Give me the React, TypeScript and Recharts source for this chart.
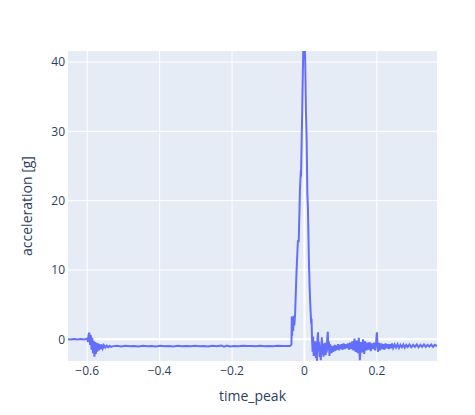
import { LineChart, Line, XAxis, YAxis, CartesianGrid, ReferenceLine, Label } from 'recharts'

// [time_peak, acceleration] pairs
const preEvent: [number, number][] = [
  [-0.653, 0.02], [-0.645, -0.03], [-0.636, 0.04], [-0.627, -0.02], [-0.618, 0.03], [-0.609, -0.04], [-0.603, 0.05],
]

const firstShock: [number, number][] = [
  [-0.6, 0.1], [-0.598, -0.4], [-0.596, 0.7], [-0.594, 0.95], [-0.592, -0.8], [-0.59, 0.6], [-0.588, -1.5],
  [-0.586, 0.2], [-0.584, -2.0], [-0.582, -0.2], [-0.58, -2.5], [-0.578, -0.4], [-0.576, -2.1], [-0.574, -0.5],
  [-0.572, -1.8], [-0.57, -0.6], [-0.568, -1.6], [-0.566, -0.7], [-0.563, -1.45], [-0.56, -0.75], [-0.557, -1.3],
  [-0.554, -0.85], [-0.55, -1.2], [-0.546, -0.9], [-0.542, -1.15], [-0.538, -0.95], [-0.534, -1.1],
]

const plateau: [number, number][] = [
  [-0.53, -1.02], [-0.518, -0.94], [-0.506, -1.05], [-0.494, -0.92], [-0.482, -1.0], [-0.47, -0.96], [-0.458, -1.04],
  [-0.446, -0.93], [-0.434, -1.0], [-0.422, -0.95], [-0.41, -1.03], [-0.398, -0.94], [-0.386, -0.99], [-0.374, -0.96],
  [-0.362, -1.02], [-0.35, -0.93], [-0.338, -1.0], [-0.326, -0.95], [-0.314, -1.01], [-0.302, -0.94], [-0.29, -0.99],
  [-0.278, -0.95], [-0.266, -1.02], [-0.254, -0.92], [-0.242, -1.0], [-0.23, -0.9], [-0.222, -1.06], [-0.214, -0.91],
  [-0.206, -1.03], [-0.194, -0.95], [-0.182, -1.0], [-0.17, -0.94], [-0.158, -0.98], [-0.146, -0.95], [-0.134, -1.0],
  [-0.122, -0.94], [-0.11, -0.99], [-0.098, -0.95], [-0.086, -1.0], [-0.074, -0.94], [-0.062, -0.98], [-0.05, -0.95],
  [-0.041, -0.97],
]

const impact: [number, number][] = [
  [-0.038, -0.9], [-0.036, -0.7], [-0.035, 3.3], [-0.034, 0.5], [-0.033, 2.8], [-0.031, 1.2], [-0.03, 3.4],
  [-0.028, 2.0], [-0.026, 3.5], [-0.024, 6.5], [-0.022, 9.6], [-0.02, 12.0], [-0.018, 14.3], [-0.016, 14.0],
  [-0.0135, 19.1], [-0.0125, 21.6], [-0.01, 24.4], [-0.0095, 23.5], [-0.006, 33.6], [-0.004, 40], [-0.002, 44],
  [0.0, 45], [0.002, 40], [0.004, 33], [0.006, 28.8], [0.008, 21], [0.0095, 19.1], [0.011, 15], [0.012, 11.9],
  [0.014, 8], [0.0155, 5.7], [0.017, 4], [0.0185, 2.3], [0.0195, 3.0],
]

const ringDown: [number, number][] = [
  [0.021, -0.1], [0.0225, -1.8], [0.024, 0.4], [0.0255, -2.4], [0.027, -0.6], [0.0285, -2.0], [0.03, -0.3],
  [0.0315, -2.7], [0.033, -1.0], [0.0345, -3.1], [0.036, 0.2], [0.0375, 1.0], [0.039, -1.8], [0.0405, -0.4],
  [0.042, -2.6], [0.0435, -0.9], [0.045, -3.0], [0.0465, -1.2], [0.048, 0.3], [0.0495, -2.2], [0.051, -0.6],
  [0.0525, -2.5], [0.054, -0.8], [0.0555, -2.0], [0.057, -0.5], [0.0585, -2.3], [0.06, -0.9], [0.0615, -1.9],
  [0.063, 0.2], [0.0645, 1.1], [0.066, -1.5], [0.0675, -0.3], [0.069, -2.4], [0.0705, -0.7], [0.072, -1.9],
  [0.0735, -0.9], [0.075, -2.0], [0.077, -1.0], [0.079, -1.8], [0.081, -0.9], [0.083, -1.7], [0.085, -0.8],
  [0.087, -1.6], [0.089, -0.9], [0.091, -1.5], [0.093, -0.7], [0.095, -1.6], [0.097, -0.8], [0.099, -1.4],
]

const chatter: [number, number][] = [
  [0.102, -0.7], [0.105, -1.5], [0.108, -0.6], [0.111, -1.4], [0.114, -0.7], [0.117, -1.3], [0.12, -0.6],
  [0.123, -1.5], [0.126, -0.5], [0.129, -1.4], [0.132, -0.3], [0.135, -1.6], [0.138, 0.1], [0.141, -1.8],
  [0.144, -0.2], [0.147, -2.0], [0.15, 0.2], [0.153, -3.0], [0.156, -0.4], [0.159, -1.9], [0.162, 0.0],
  [0.165, -2.1], [0.168, -0.3], [0.171, -1.6], [0.174, -0.5], [0.177, -1.5], [0.18, -0.4], [0.183, -1.7],
  [0.186, -0.6], [0.189, -1.4], [0.192, -0.5], [0.195, -1.6], [0.198, -0.3], [0.2, 1.0], [0.2015, -0.6],
  [0.203, -1.8], [0.206, -0.5], [0.209, -1.6],
]

const tail: [number, number][] = [
  [0.212, -0.6], [0.215, -1.4], [0.218, -0.7], [0.221, -1.5], [0.224, -0.6], [0.227, -1.3], [0.23, -0.7],
  [0.233, -1.4], [0.236, -0.7], [0.239, -1.3], [0.242, -0.6], [0.245, -1.25], [0.249, -0.75], [0.253, -1.2],
  [0.257, -0.7], [0.261, -1.25], [0.265, -0.8], [0.269, -1.15], [0.273, -0.75], [0.277, -1.2], [0.281, -0.8],
  [0.285, -1.1], [0.29, -0.75], [0.295, -1.15], [0.3, -0.8], [0.305, -1.1], [0.31, -0.75], [0.315, -1.15],
  [0.32, -0.8], [0.325, -1.1], [0.33, -0.75], [0.335, -1.1], [0.34, -0.8], [0.345, -1.05], [0.35, -0.75],
  [0.355, -1.1], [0.36, -0.8], [0.366, -1.0],
]

const xTicks = [-0.6, -0.4, -0.2, 0, 0.2]
const yTicks = [0, 10, 20, 30, 40]

const data = [...preEvent, ...firstShock, ...plateau, ...impact, ...ringDown, ...chatter, ...tail].map(
  ([t, a]) => ({ time_peak: t, acceleration: a })
)

const FONT = '"Open Sans", verdana, arial, sans-serif'
const tickStyle = { fontSize: 12, fill: '#2a3f5f', fontFamily: FONT }
const fmt = (v: number) => (v < 0 ? `\u2212${Math.abs(v)}` : `${v}`)

if (typeof document !== 'undefined') document.body.style.margin = '0'

export default function App() {
  return (
    <div style={{ width: 475, height: 415, background: '#fff' }}>
      <LineChart width={475} height={415} data={data} margin={{ top: 51, right: 38, bottom: 0, left: 0 }}>
        <CartesianGrid fill="#E5ECF6" stroke="#fff" strokeWidth={1} horizontalValues={yTicks} verticalValues={xTicks} />
        <ReferenceLine y={0} stroke="#fff" strokeWidth={2} />
        <ReferenceLine x={0} stroke="#fff" strokeWidth={2} />
        <XAxis
          dataKey="time_peak"
          type="number"
          domain={[-0.653, 0.366]}
          ticks={xTicks}
          allowDataOverflow
          tickFormatter={fmt}
          tick={tickStyle}
          axisLine={false}
          tickLine={false}
          tickSize={0}
          tickMargin={5}
          height={54}
        >
          <Label
            content={() => (
              <text x={252.5} y={401} textAnchor="middle" fontSize={14} fill="#2a3f5f" fontFamily={FONT}>
                time_peak
              </text>
            )}
          />
        </XAxis>
        <YAxis
          type="number"
          domain={[-3.13, 41.6]}
          ticks={yTicks}
          allowDataOverflow
          tickFormatter={fmt}
          tick={tickStyle}
          axisLine={false}
          tickLine={false}
          tickSize={0}
          tickMargin={3}
          width={68}
        >
          <Label
            content={() => (
              <text
                x={32}
                y={206}
                textAnchor="middle"
                fontSize={14}
                fill="#2a3f5f"
                fontFamily={FONT}
                transform="rotate(-90 32 206)"
              >
                acceleration [g]
              </text>
            )}
          />
        </YAxis>
        <Line
          dataKey="acceleration"
          type="linear"
          stroke="#636efa"
          strokeWidth={2}
          dot={false}
          isAnimationActive={false}
        />
      </LineChart>
    </div>
  )
}
